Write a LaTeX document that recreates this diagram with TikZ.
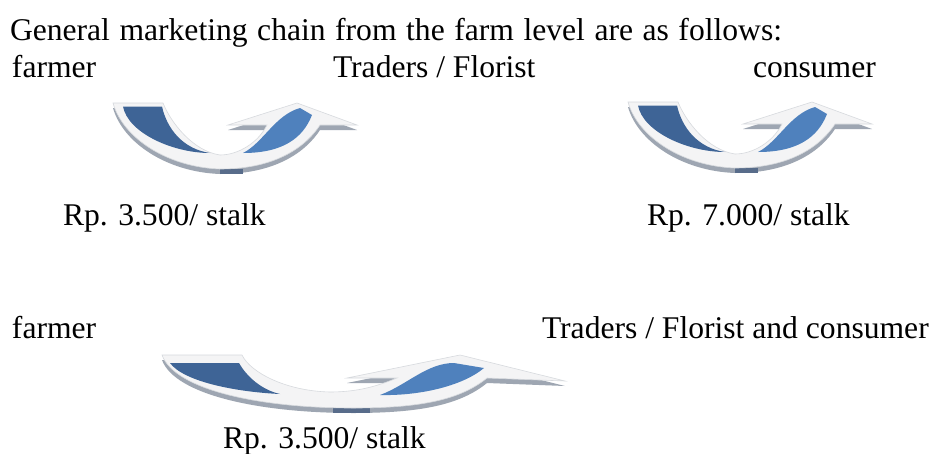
\documentclass[tikz,border=0pt]{standalone}
\usepackage{fontspec}
\setmainfont{Liberation Serif}
\definecolor{armdark}{RGB}{62,100,150}
\definecolor{armlight}{RGB}{79,129,189}
\definecolor{bevel}{RGB}{244,244,245}
\definecolor{bevelline}{RGB}{215,218,222}
\definecolor{extrude}{RGB}{158,166,178}
\definecolor{extrudedark}{RGB}{88,108,138}
\tikzset{
  label text/.style={anchor=base west, inner sep=0pt, outer sep=0pt,
    font=\fontsize{31.6}{36}\selectfont},
  % outline of the short curved arrow (local units = px)
  short arrow/.style={insert path={
    (0,0) -- (50,0) .. controls (58,20) and (80,48) .. (107,52)
    .. controls (125,52) and (145,40) .. (154,22)
    -- (115,22) -- (184,0) -- (244,22) -- (207,22)
    .. controls (194,42) and (165,66) .. (107,66)
    .. controls (54,64) and (10,35) .. cycle}},
  short left face/.style={insert path={
    (10,3.5) -- (49,3.5) .. controls (54,26) and (70,46) .. (97,50)
    .. controls (60,50) and (15,30) .. cycle}},
  short right face/.style={insert path={
    (130,50) .. controls (150,40) and (162,12) .. (187,5)
    -- (199,12) .. controls (190,35) and (170,50) .. cycle}},
  % outline of the long, flat curved arrow
  long arrow/.style={insert path={
    (0,0) -- (80,0) .. controls (88,17) and (123,36) .. (168,37)
    .. controls (198,37) and (218,30) .. (235,23)
    -- (185,23) -- (298,0) -- (403,26) -- (325,23)
    .. controls (298,45) and (258,53) .. (191,53)
    .. controls (98,53) and (13,35) .. cycle}},
  long left face/.style={insert path={
    (8,8) -- (77,8) .. controls (85,22) and (100,35) .. (118,39)
    .. controls (75,37) and (22,27) .. cycle}},
  long right face/.style={insert path={
    (218,40) .. controls (245,30) and (265,8) .. (292,8)
    -- (322,13) .. controls (302,30) and (260,41) .. cycle}},
}
\begin{document}
\begin{tikzpicture}[x=1pt,y=-1pt]
\useasboundingbox (0,0) rectangle (938,453);
\fill[white] (0,0) rectangle (938,453);

% heading and first chain
\node[label text] (title) at (10,40)
  {\makebox[772pt][s]{General marketing chain from the farm level are as follows:}};
\node[label text] (farmerA) at (12,77) {farmer};
\node[label text] (traderA) at (333,77) {Traders / Florist};
\node[label text] (consumerA) at (753,77) {consumer};
\node[label text] (priceA) at (63,225) {Rp. 3.500/ stalk};
\node[label text] (priceB) at (647,225) {Rp. 7.000/ stalk};

% second chain
\node[label text] (farmerB) at (12,338) {farmer};
\node[label text] (traderB) at (542,338) {Traders / Florist and consumer};
\node[label text] (priceC) at (223,448) {Rp. 3.500/ stalk};

% curved arrows of the first chain
\foreach \px/\py in {113/103,628/102} {
  \begin{scope}[shift={(\px,\py)}]
    \fill[extrude] [shift={(0,5)}] [short arrow];
    \fill[extrudedark] (107,66) rectangle (130,71);
    \filldraw[fill=bevel, draw=bevelline, line width=0.6pt] [short arrow];
    \fill[armdark] [short left face];
    \fill[armlight] [short right face];
  \end{scope}
}

% curved arrow of the second chain
\begin{scope}[shift={(162,355)}]
  \fill[extrude] [shift={(0,5)}] [long arrow];
  \fill[extrudedark] (171,53) rectangle (208,58);
  \filldraw[fill=bevel, draw=bevelline, line width=0.6pt] [long arrow];
  \fill[armdark] [long left face];
  \fill[armlight] [long right face];
\end{scope}
\end{tikzpicture}
\end{document}
